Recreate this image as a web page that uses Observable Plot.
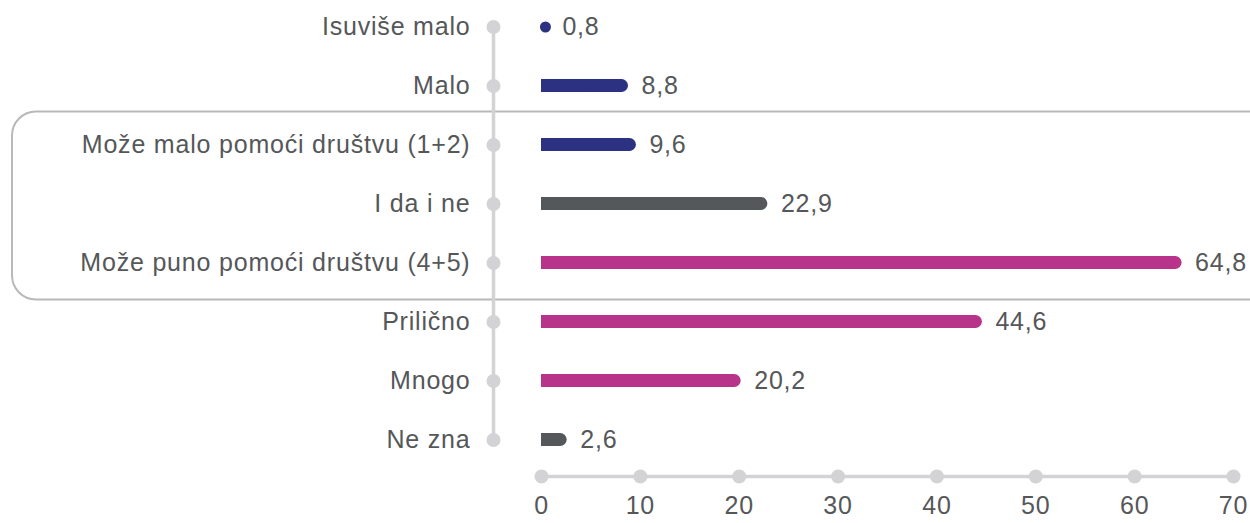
<!DOCTYPE html>
<html>
<head>
<meta charset="utf-8">
<script src="https://cdn.jsdelivr.net/npm/d3@7"></script>
<script src="https://cdn.jsdelivr.net/npm/@observablehq/plot@0.6"></script>
<style>
  html, body { margin: 0; padding: 0; background: #fff; }
  #chart svg { display: block; font-family: "Liberation Sans", Arial, sans-serif; }
  #chart svg text { letter-spacing: 0.8px; }
</style>
</head>
<body>
<div id="chart"></div>
<script>
const categories = ["Isuviše malo", "Malo", "Može malo pomoći društvu (1+2)", "I da i ne", "Može puno pomoći društvu (4+5)", "Prilično", "Mnogo", "Ne zna"];
const values = [0.8, 8.8, 9.6, 22.9, 64.8, 44.6, 20.2, 2.6];
const groups = ["neg", "neg", "neg", "neutral", "pos", "pos", "pos", "neutral"];
const groupColors = {neg: "#2d3181", neutral: "#55585b", pos: "#b8338a"};
const xTicks = [0, 10, 20, 30, 40, 50, 60, 70];
const boxedCategories = ["Može malo pomoći društvu (1+2)", "Može puno pomoći društvu (4+5)"];

const data = categories.map((c, i) => ({cat: c, value: values[i], color: groupColors[groups[i]]}));
const bigBars = data.filter(d => d.value >= 1.5);
const tinyBars = data.filter(d => d.value < 1.5);
const fmt = v => v.toFixed(1).replace(".", ",");
const axisGray = "#d3d3d5";
const textGray = "#555759";
const fs = 25;

const plot = Plot.plot({
  width: 1250,
  height: 523,
  marginLeft: 541,
  marginRight: 17,
  marginTop: 19,
  marginBottom: 47,
  x: {domain: [0, 70], axis: null},
  y: {domain: categories, range: [19.5, 445.5], paddingInner: 0.78, paddingOuter: 0, axis: null},
  marks: [
    // vertical category axis
    Plot.line(categories, {x: () => 0, y: d => d, dx: -48, stroke: axisGray, strokeWidth: 3.5}),
    Plot.dot(categories, {x: () => 0, y: d => d, dx: -48, r: 7, fill: axisGray}),
    // category labels
    Plot.text(categories, {x: () => 0, y: d => d, text: d => d, dx: -71, textAnchor: "end", fontSize: fs, fill: textGray}),
    // horizontal value axis
    Plot.frame({anchor: "bottom", stroke: axisGray, strokeWidth: 3.5}),
    Plot.dot(xTicks, {x: d => d, frameAnchor: "bottom", r: 7, fill: axisGray}),
    Plot.text(xTicks, {x: d => d, text: d => String(d), frameAnchor: "bottom", dy: 37, fontSize: fs, fill: textGray}),
    // bars: rounded right end, square left end
    Plot.barX(bigBars, {x1: 0, x2: "value", y: "cat", fill: "color", rx: 6.5}),
    Plot.barX(bigBars, {x1: 0, x2: d => d.value / 2, y: "cat", fill: "color"}),
    Plot.dot(tinyBars, {x: d => d.value / 2, y: "cat", r: 5.5, fill: "color"}),
    // value labels
    Plot.text(data, {x: "value", y: "cat", text: d => fmt(d.value), textAnchor: "start", fontSize: fs, fill: textGray, dx: 13})
  ]
});

document.getElementById("chart").appendChild(plot);

// highlight box around the summary rows, positioned from the y scale
const ys = plot.scale("y");
const bw = ys.bandwidth;
const topC = ys.apply(boxedCategories[0]) + bw / 2;
const botC = ys.apply(boxedCategories[1]) + bw / 2;
d3.select(plot).insert("rect", ":first-child")
  .attr("x", 12)
  .attr("y", topC - 33)
  .attr("width", 1300)
  .attr("height", (botC + 37) - (topC - 33))
  .attr("rx", 24)
  .attr("fill", "none")
  .attr("stroke", "#b8b8b8")
  .attr("stroke-width", 2);
</script>
</body>
</html>
